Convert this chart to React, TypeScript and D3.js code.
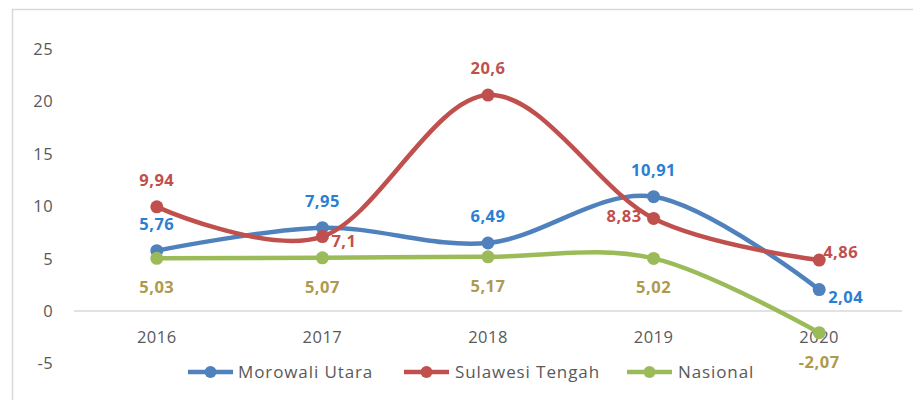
import React from "react";
import * as d3 from "d3";

const years = ["2016", "2017", "2018", "2019", "2020"];
const morowali = [5.76, 7.95, 6.49, 10.91, 2.04];
const sulteng = [9.94, 7.1, 20.6, 8.83, 4.86];
const nasional = [5.03, 5.07, 5.17, 5.02, -2.07];
const yTicks = [-5, 0, 5, 10, 15, 20, 25];
const seriesNames = ["Morowali Utara", "Sulawesi Tengah", "Nasional"];
// label placement: a=above, b=below, r=right, l=left
const morowaliPos = ["a", "a", "a", "a", "rb"];
const sultengPos = ["a", "rl", "a", "l", "r"];
const nasionalPos = ["b", "b", "b", "b", "b"];

const W = 913, H = 400;
const FONT = "'Open Sans', 'DejaVu Sans', sans-serif";

export default function App() {
  const x = d3.scaleBand<string>().domain(years).range([74, 902]);
  const y = d3.scaleLinear().domain([-5, 25]).range([363.4, 49]);
  const cx = (yr: string) => (x(yr) as number) + x.bandwidth() / 2;
  const line = d3
    .line<number>()
    .x((_, i) => cx(years[i]))
    .y((d) => y(d))
    .curve(d3.curveCardinal.tension(0));

  const series = [
    { name: seriesNames[0], values: morowali, pos: morowaliPos, color: "#4F81BD", label: "#2A7FD4" },
    { name: seriesNames[1], values: sulteng, pos: sultengPos, color: "#C0504D", label: "#C0504D" },
    { name: seriesNames[2], values: nasional, pos: nasionalPos, color: "#9BBB59", label: "#AE9A4E" },
  ];

  const fmt = (v: number) => String(v).replace(".", ",");

  const labelAttrs = (p: string, px: number, py: number) => {
    if (p === "a") return { x: px, y: py - 21, anchor: "middle" };
    if (p === "b") return { x: px, y: py + 35, anchor: "middle" };
    if (p === "r") return { x: px + 4, y: py - 2, anchor: "start" };
    if (p === "rl") return { x: px + 9, y: py + 10, anchor: "start" };
    if (p === "rb") return { x: px + 9, y: py + 13, anchor: "start" };
    return { x: px - 12, y: py + 4, anchor: "end" };
  };

  const legendItems = [
    { x0: 188, tx: 238 },
    { x0: 404, tx: 455 },
    { x0: 627, tx: 678 },
  ];

  return (
    <div style={{ position: "fixed", left: 0, top: 0, width: W, height: H, background: "#fff" }}>
      <svg width={W} height={H} style={{ display: "block" }} fontFamily={FONT}>
        <rect x={0} y={0} width={W} height={H} fill="#fff" />
        <rect x={12.5} y={9.5} width={930} height={430} fill="#fff" stroke="#d9d9d9" strokeWidth={1.5} />
        {yTicks.map((t) => (
          <text key={t} x={53} y={y(t) + 6} textAnchor="end" fontSize={16.5} fill="#595959" letterSpacing={0.4}>
            {t}
          </text>
        ))}
        <line x1={74} x2={902} y1={y(0)} y2={y(0)} stroke="#d9d9d9" strokeWidth={1.5} />
        {years.map((yr) => (
          <text key={yr} x={cx(yr)} y={343} textAnchor="middle" fontSize={16.5} fill="#595959" letterSpacing={0.5}>
            {yr}
          </text>
        ))}
        {series.map((s) => (
          <g key={s.name}>
            <path d={line(s.values) as string} fill="none" stroke={s.color} strokeWidth={4.5} strokeLinecap="round" />
            {s.values.map((v, i) => (
              <circle key={i} cx={cx(years[i])} cy={y(v)} r={6.5} fill={s.color} />
            ))}
          </g>
        ))}
        {series.map((s) =>
          s.values.map((v, i) => {
            const a = labelAttrs(s.pos[i], cx(years[i]), y(v));
            return (
              <text
                key={s.name + i}
                x={a.x}
                y={a.y}
                textAnchor={a.anchor as any}
                fontSize={16.5}
                fontWeight="bold"
                fill={s.label}
                letterSpacing={0.5}
              >
                {fmt(v)}
              </text>
            );
          })
        )}
        {series.map((s, i) => {
          const li = legendItems[i];
          return (
            <g key={"lg" + s.name}>
              <line x1={li.x0} x2={li.x0 + 45} y1={372} y2={372} stroke={s.color} strokeWidth={4.5} />
              <circle cx={li.x0 + 22.5} cy={372} r={6} fill={s.color} />
              <text x={li.tx} y={378} fontSize={17} fill="#595959" letterSpacing={0.9}>
                {s.name}
              </text>
            </g>
          );
        })}
      </svg>
    </div>
  );
}
